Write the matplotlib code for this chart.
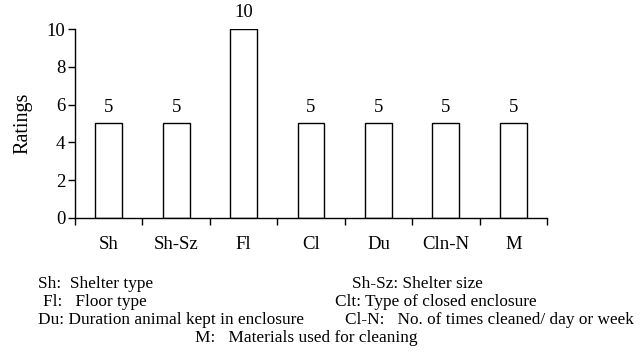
import matplotlib
matplotlib.use("Agg")
import matplotlib.pyplot as plt
import numpy as np

categories = ["Sh", "Sh-Sz", "Fl", "Cl", "Du", "Cln-N", "M"]
ratings = [5, 5, 10, 5, 5, 5, 5]
yticks = [0, 2, 4, 6, 8, 10]

legend_lines = [
    (38, 284, "Sh:  Shelter type"),
    (352, 284, "Sh-Sz: Shelter size"),
    (43, 302, "Fl:   Floor type"),
    (335, 302, "Clt: Type of closed enclosure"),
    (38, 320, "Du: Duration animal kept in enclosure"),
    (345, 320, "Cl-N:   No. of times cleaned/ day or week"),
    (195, 338, "M:   Materials used for cleaning"),
]

plt.rcParams["font.family"] = ["Liberation Serif", "DejaVu Serif"]

W, H = 643, 353
fig = plt.figure(figsize=(W / 100, H / 100), dpi=100)
ax = fig.add_axes([75 / W, (H - 218) / H, (547 - 75) / W, (218 - 29) / H])

x = np.arange(len(categories)) + 0.5
ax.bar(x, ratings, width=0.4, color="white", edgecolor="black", linewidth=1.0)
for xi, v in zip(x, ratings):
    ax.text(xi, v + 0.4, str(v), ha="center", va="bottom", fontsize=13.5, clip_on=False)

ax.set_xlim(0, len(categories))
ax.set_ylim(0, 10)
ax.set_yticks(yticks)
ax.tick_params(axis="y", labelsize=13.5, direction="out", length=5, width=1, pad=2)

# boundaries get the tick marks, centres get the labels
ax.set_xticks(np.arange(len(categories) + 1))
ax.set_xticklabels([])
ax.tick_params(axis="x", which="major", direction="out", length=5, width=1)
ax.set_xticks(x, minor=True)
ax.set_xticklabels(categories, minor=True)
ax.tick_params(axis="x", which="minor", length=0, labelsize=13.5, pad=13)

for s in ["top", "right"]:
    ax.spines[s].set_visible(False)
for s in ["left", "bottom"]:
    ax.spines[s].set_linewidth(1)

ax.set_ylabel("Ratings", fontsize=14.5, labelpad=10)

for px, py, t in legend_lines:
    fig.text(px / W, 1 - py / H, t, ha="left", va="center", fontsize=12.4)

fig.savefig("out.png", dpi=100)
